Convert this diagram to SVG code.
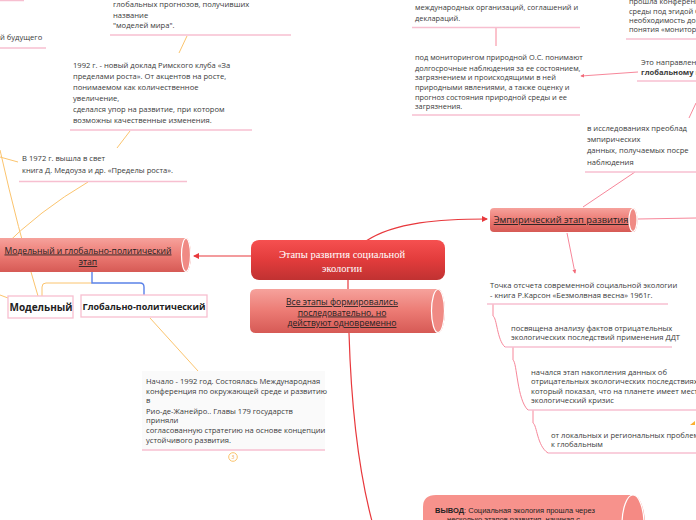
<svg xmlns="http://www.w3.org/2000/svg" width="696" height="520" viewBox="0 0 696 520">
<defs>
<linearGradient id="gRed" x1="0" y1="0" x2="0" y2="1">
<stop offset="0" stop-color="#f65050"/><stop offset="0.5" stop-color="#e23c3c"/><stop offset="1" stop-color="#c03232"/>
</linearGradient>
<linearGradient id="gPink" x1="0" y1="0" x2="0" y2="1">
<stop offset="0" stop-color="#f6a29c"/><stop offset="0.5" stop-color="#ec7b74"/><stop offset="1" stop-color="#d65a55"/>
</linearGradient>
<marker id="arR" viewBox="0 0 6 6" refX="5" refY="3" markerWidth="5" markerHeight="5" orient="auto"><path d="M0,0 L6,3 L0,6 Z" fill="#e8383c"/></marker>
<marker id="arP" viewBox="0 0 6 6" refX="5" refY="3" markerWidth="4" markerHeight="4" orient="auto"><path d="M0,0 L6,3 L0,6 Z" fill="#f26a78"/></marker>
<style>
.t{font-family:"Open Sans","Noto Sans","DejaVu Sans",sans-serif;font-size:7.6px;fill:#3a3a3a}
.s{font-size:7.4px}
.ul{stroke:#f7bfd0;stroke-width:1.5;fill:none}
.cr{stroke:#e8383c;stroke-width:1.2;fill:none}
.cp{stroke:#f7879a;stroke-width:1;fill:none}
.co{stroke:#fbc46e;stroke-width:1;fill:none}
.cb{stroke:#5b82e8;stroke-width:1.4;fill:none}
.nt{font-family:"Open Sans","Noto Sans",sans-serif;fill:#222;text-decoration:underline;text-anchor:middle}
.cap{fill:#f08a84;stroke:#fff;stroke-width:1.2}
.box{fill:#fff;stroke:#f7bfd0;stroke-width:1.3}
</style>
</defs>
<rect width="696" height="520" fill="#fff"/>

<g id="connectors">
<path class="cr" d="M251,256 L194,256" marker-end="url(#arR)"/>
<path class="cr" d="M348,280 L348,289"/>
<path class="cr" d="M349,333 C351,400 358,470 373,525"/>
<path class="cr" d="M366,241 C395,222 440,219 487,219" marker-end="url(#arR)"/>
<path class="cp" d="M638,219 L696,218"/>
<path class="cp" d="M583,207 L635,172"/>
<path class="cp" d="M567,233 L575,273" marker-end="url(#arP)"/>
<path class="cp" d="M696,103 L689,118"/>
<path class="cp" d="M638,72 L581,76" marker-end="url(#arP)"/>
<path class="cp" d="M496,28 L496,46"/>
<path class="cp" d="M493,304 V316 C497,318 497,340 505,347"/>
<path class="cp" d="M513,347 V360 C517,362 517,400 528,410"/>
<path class="cp" d="M533,410 V423 C537,425 537,446 548,453"/>
<path class="co" d="M88,182 Q40,210 0,250"/>
<path class="co" d="M38,296 Q18,230 0,150"/>
<path class="co" d="M0,157 L18,162"/>
<path class="co" d="M0,295 L8,298"/>
<path class="co" d="M187,36 L179,53"/>
<path class="co" d="M130,131 L117,148"/>
<path class="co" d="M150,318 L198,371"/>
<path class="co" d="M92,283 H46 Q42,283 42,287 V296" stroke-width="1.4"/>
<path class="cb" d="M92,272 V283 H140 Q144,283 144,287 V296"/>
</g>

<g id="n-top-left">
<path class="ul" d="M0,0.5 H24"/>
<text class="t" x="0" y="40">й будущего</text>
<path class="ul" d="M0,48 H46"/>
</g>

<g id="n-models">
<text class="t" x="113" y="7">глобальных прогнозов, получивших</text>
<text class="t" x="113" y="18">название</text>
<text class="t" x="113" y="28">"моделей мира".</text>
<path class="ul" d="M110,35 H291"/>
</g>

<g id="n-1992">
<text class="t" x="73" y="68">1992 г. - новый доклад Римского клуба «За</text>
<text class="t" x="73" y="79">пределами роста». От акцентов на росте,</text>
<text class="t" x="73" y="90">понимаемом как количественное</text>
<text class="t" x="73" y="101">увеличение,</text>
<text class="t" x="73" y="112">сделался упор на развитие, при котором</text>
<text class="t" x="73" y="123">возможны качественные изменения.</text>
<path class="ul" d="M70,130 H252"/>
</g>

<g id="n-1972">
<text class="t" x="22" y="161">В 1972 г. вышла в свет</text>
<text class="t" x="22" y="173">книга Д. Медоуза и др. «Пределы роста».</text>
<path class="ul" d="M19,181.5 H187"/>
</g>

<g id="n-model-global">
<path d="M0,238 H186 A5,17 0 0 1 186,272 H0 Z" fill="url(#gPink)"/>
<ellipse class="cap" cx="186" cy="255" rx="4.5" ry="16.5"/>
<text class="nt" x="88" y="253.5" font-size="8.6">Модельный и глобально-политический</text>
<text class="nt" x="88" y="265" font-size="8.6">этап</text>
</g>

<g id="n-modelny">
<rect class="box" x="8" y="296" width="65" height="22"/>
<text x="41" y="311" font-family="'Open Sans','Noto Sans',sans-serif" font-size="10" font-weight="bold" fill="#222" text-anchor="middle">Модельный</text>
</g>

<g id="n-global-polit">
<rect class="box" x="81" y="295" width="126" height="22"/>
<text x="144" y="310" font-family="'Open Sans','Noto Sans',sans-serif" font-size="9" font-weight="bold" fill="#222" text-anchor="middle">Глобально-политический</text>
</g>

<g id="n-rio">
<rect x="142" y="371" width="183" height="79" fill="#fafafa"/>
<text class="t" x="146" y="384">Начало - 1992 год. Состоялась Международная</text>
<text class="t" x="146" y="394">конференция по окружающей среде и развитию</text>
<text class="t" x="146" y="403">в</text>
<text class="t" x="146" y="414">Рио-де-Жанейро.. Главы 179 государств</text>
<text class="t" x="146" y="423">приняли</text>
<text class="t" x="146" y="433">согласованную стратегию на основе концепции</text>
<text class="t" x="146" y="443">устойчивого развития.</text>
<path class="ul" d="M142,450 H325"/>
<circle cx="233" cy="457" r="4.3" fill="#fff" stroke="#fbc46e" stroke-width="1"/>
<text x="233" y="459" font-family="'Open Sans',sans-serif" font-size="5" fill="#f0a040" text-anchor="middle">3</text>
</g>

<g id="n-central">
<rect x="251" y="240" width="194" height="40" rx="8" fill="url(#gRed)"/>
<text x="342" y="258" font-family="'Liberation Serif',serif" font-size="10.5" fill="#fff" text-anchor="middle">Этапы развития социальной</text>
<text x="342" y="272" font-family="'Liberation Serif',serif" font-size="10.5" fill="#fff" text-anchor="middle">экологии</text>
</g>

<g id="n-all-stages">
<path d="M256,289 H438 A7,22 0 0 1 438,333 H256 Q250,333 250,327 V295 Q250,289 256,289 Z" fill="url(#gPink)"/>
<ellipse class="cap" cx="438" cy="311" rx="6.5" ry="21.5"/>
<text class="nt" x="342" y="305" font-size="8.6">Все этапы формировались</text>
<text class="nt" x="342" y="315.5" font-size="8.6">последовательно, но</text>
<text class="nt" x="342" y="326" font-size="8.6">действуют одновременно</text>
</g>

<g id="n-empirical">
<path d="M494,208 H633 A4.5,12 0 0 1 633,232 H494 Q490,232 490,228 V212 Q490,208 494,208 Z" fill="url(#gPink)"/>
<ellipse class="cap" cx="633" cy="220" rx="4" ry="11.5"/>
<text class="nt" x="561" y="223" font-size="9.3">Эмпирический этап развития</text>
</g>

<g id="n-intl">
<text class="t s" x="415" y="10">международных организаций, соглашений и</text>
<text class="t s" x="415" y="21">деклараций.</text>
<path class="ul" d="M412,27.5 H580"/>
</g>

<g id="n-monitoring">
<text class="t s" x="415" y="60">под мониторингом природной О.С. понимают</text>
<text class="t s" x="415" y="70.5">долгосрочные наблюдения за ее состоянием,</text>
<text class="t s" x="415" y="80">загрязнением и происходящими в ней</text>
<text class="t s" x="415" y="90">природными явлениями, а также оценку и</text>
<text class="t s" x="415" y="100">прогноз состояния природной среды и ее</text>
<text class="t s" x="415" y="109">загрязнения.</text>
<path class="ul" d="M412,115 H580"/>
</g>

<g id="n-conference">
<text class="t s" x="629" y="4">прошла конференц</text>
<text class="t s" x="629" y="13.5">среды под эгидой О</text>
<text class="t s" x="629" y="22.5">необходимость дог</text>
<text class="t s" x="629" y="32">понятия «монитори</text>
<path class="ul" d="M626,39 H696"/>
</g>

<g id="n-direction">
<text class="t" x="641" y="65">Это направлени</text>
<text class="t" x="641" y="75" font-weight="bold" fill="#222">глобальному м</text>
<path class="ul" d="M637,81 H696"/>
</g>

<g id="n-research">
<text class="t" x="587" y="131" font-size="8.6">в исследованиях преоблад</text>
<text class="t" x="587" y="141.5" font-size="8.6">эмпирических</text>
<text class="t" x="587" y="153" font-size="8.6">данных, получаемых посре</text>
<text class="t" x="587" y="164.5" font-size="8.6">наблюдения</text>
<path class="ul" d="M585,172 H696"/>
</g>

<g id="n-carson">
<text class="t" x="490" y="288" font-size="7.5">Точка отсчета современной социальной экологии</text>
<text class="t" x="490" y="298" font-size="7.5">- книга Р.Карсон «Безмолвная весна» 1961г.</text>
<path class="ul" d="M487,304 H668"/>
</g>

<g id="n-ddt">
<text class="t" x="511" y="331" font-size="7.4">посвящена анализу фактов отрицательных</text>
<text class="t" x="511" y="340" font-size="7.4">экологических последствий применения ДДТ</text>
<path class="ul" d="M505,347 H672"/>
</g>

<g id="n-accum">
<text class="t" x="531" y="375" font-size="7.4">начался этап накопления данных об</text>
<text class="t" x="531" y="384" font-size="7.4">отрицательных экологических последствиях НТ</text>
<text class="t" x="531" y="394" font-size="7.4">который показал, что на планете имеет место</text>
<text class="t" x="531" y="403" font-size="7.4">экологический кризис</text>
<path class="ul" d="M528,410 H696"/>
</g>

<g id="n-local">
<path d="M690,425 L695,421 L695,425 Z" fill="#fbb030"/>
<text class="t" x="551" y="438" font-size="7.4">от локальных и региональных проблем п</text>
<text class="t" x="551" y="447" font-size="7.4">к глобальным</text>
<path class="ul" d="M548,453 H696"/>
</g>

<g id="n-conclusion">
<path d="M423,520 V507 Q423,495 436,495 H633 A12,30 0 0 1 645,525 V530 H423 Z" fill="#f7928c"/>
<ellipse cx="633" cy="525" rx="11" ry="30" fill="#f58a84" stroke="#fff" stroke-width="1.2"/>
<text x="435" y="513" font-family="'Liberation Sans',Arial,sans-serif" font-size="7.5" fill="#222"><tspan font-weight="bold">ВЫВОД</tspan>: Социальная экология прошла через</text>
<text x="447" y="522" font-family="'Liberation Sans',Arial,sans-serif" font-size="7.5" fill="#222">несколько этапов развития, начиная с</text>
</g>
</svg>
